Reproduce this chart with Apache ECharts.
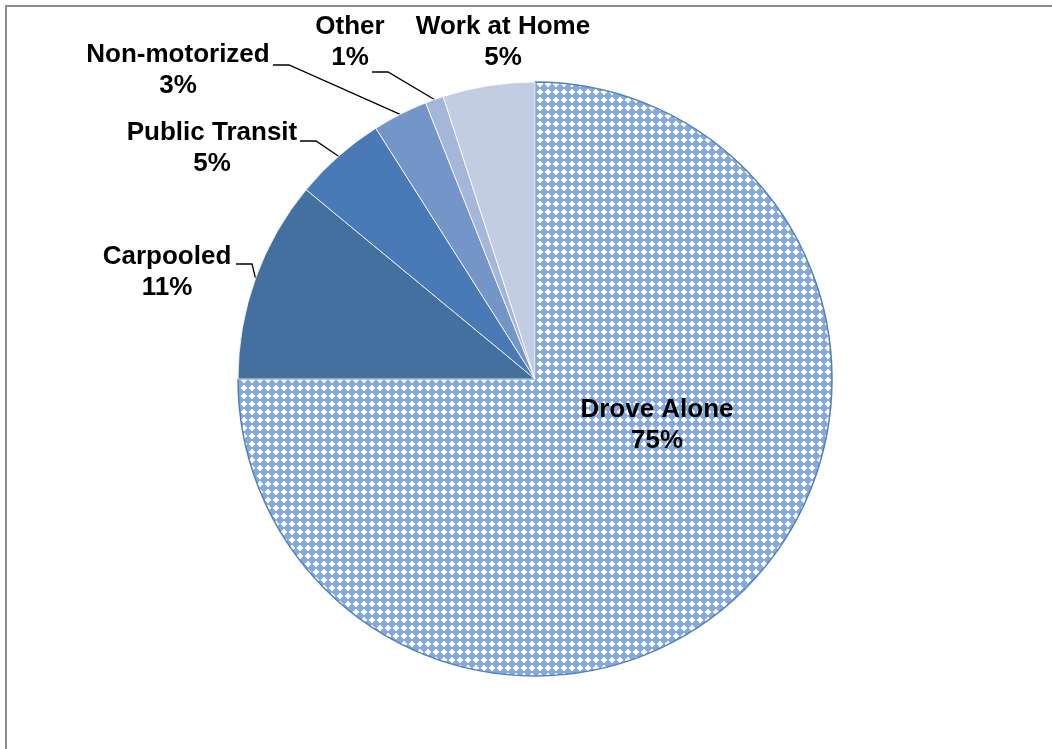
<!DOCTYPE html>
<html>
<head>
<meta charset="utf-8">
<script src="https://cdn.jsdelivr.net/npm/echarts@6/dist/echarts.min.js"></script>
<style>
  html, body { margin: 0; padding: 0; background: #fff; overflow: hidden; }
  #frame { position: absolute; left: 5px; top: 5px; width: 1100px; height: 800px;
           border-left: 2px solid #8c8c8c; border-top: 2px solid #8c8c8c; }
  #chart { position: absolute; left: 0; top: 0; width: 1052px; height: 749px; }
</style>
</head>
<body>
<div id="frame"></div>
<div id="chart"></div>
<script>
// Commute mode shares (percent)
const categories = ['Drove Alone', 'Carpooled', 'Public Transit', 'Non-motorized', 'Other', 'Work at Home'];
const shares = [75, 11, 5, 3, 1, 5];
const sliceColors = [null, '#44709f', '#4a7ab5', '#7495c7', '#a4b6d9', '#c3cde2'];

// Label centres (px) and where each leader line meets its label (null = no line)
const labelSpots = [[657, 425], [167, 272], [212, 148], [178, 70], [350, 42], [503, 42]];
const lineAttach = [null, [236, 264], [300, 141], [273, 65], [372, 72], null];

const CX = 535, CY = 379, R = 297;

// Point on the rim at the middle of slice i
function rimMidpoint(i) {
  const total = shares.reduce((a, b) => a + b, 0);
  let before = 0;
  for (let k = 0; k < i; k++) before += shares[k];
  const mid = (before + shares[i] / 2) / total;
  const theta = Math.PI / 2 - mid * 2 * Math.PI;
  return [CX + R * Math.cos(theta), CY - R * Math.sin(theta)];
}

// Small-grid fill used for the largest slice
function makeGridPattern() {
  const c = document.createElement('canvas');
  c.width = 8; c.height = 8;
  const g = c.getContext('2d');
  g.fillStyle = '#86a9dd';
  g.fillRect(0, 0, 8, 8);
  g.fillStyle = '#d3e0f3';
  g.fillRect(2, 2, 4, 4);
  g.fillStyle = '#ffffff';
  g.fillRect(1, 3, 6, 2);
  g.fillRect(3, 1, 2, 6);
  return c;
}

const chart = echarts.init(document.getElementById('chart'), null, { renderer: 'canvas' });

const data = categories.map((name, i) => {
  const item = { name: name, value: shares[i] };
  if (i === 0) {
    item.itemStyle = { color: { image: makeGridPattern(), repeat: 'repeat' }, borderColor: '#4f81bd', borderWidth: 1.5 };
    item.label = { position: 'inside' };
  } else {
    item.itemStyle = { color: sliceColors[i], borderColor: '#ffffff', borderWidth: 0.8 };
  }
  if (!lineAttach[i]) item.labelLine = { show: false };
  return item;
});

chart.setOption({
  animation: false,
  backgroundColor: 'transparent',
  series: [{
    type: 'pie',
    center: [CX, CY],
    radius: [0, R],
    startAngle: 90,
    clockwise: true,
    data: data,
    label: {
      show: true,
      formatter: p => p.name + '\n' + Math.round(p.value) + '%',
      fontFamily: 'Liberation Sans, Arial, sans-serif',
      fontWeight: 'bold',
      fontSize: 26,
      lineHeight: 31,
      color: '#000',
      align: 'center'
    },
    labelLine: {
      show: true,
      length: 10,
      length2: 15,
      lineStyle: { color: '#000', width: 1.3 }
    },
    labelLayout: function (params) {
      const i = params.dataIndex;
      const spot = labelSpots[i];
      const out = { x: spot[0], y: spot[1], align: 'center', verticalAlign: 'middle' };
      const a = lineAttach[i];
      if (a) {
        out.labelLinePoints = [rimMidpoint(i), [a[0] + 16, a[1]], a];
      }
      return out;
    }
  }]
});
</script>
</body>
</html>
